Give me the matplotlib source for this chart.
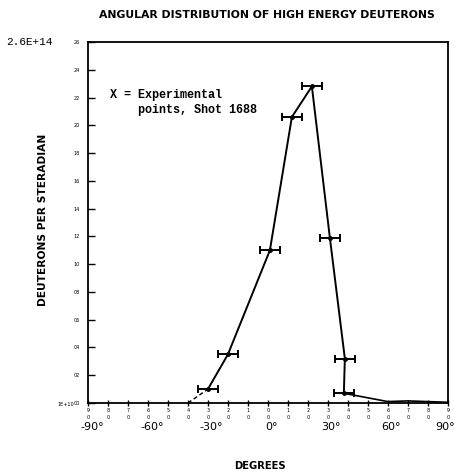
import matplotlib
matplotlib.use('Agg')
import matplotlib.pyplot as plt

# measured points (degrees, deuterons per steradian)
angles = [-30, -20, 1, 12, 22, 31, 38.5, 38]
counts = [1.0e13, 3.5e13, 11.0e13, 20.6e13, 22.8e13, 11.9e13, 3.2e13, 0.7e13]
angle_err = [5, 5, 5, 5, 5, 5, 5, 5]

# curve continuation near zero beyond the last point
tail_angles = [38, 60, 70, 80, 90]
tail_counts = [0.7e13, 0.1e13, 0.15e13, 0.1e13, 0.05e13]

# dashed lead-in from the baseline
lead_angles = [-40, -30]
lead_counts = [0.0, 1.0e13]

xticks_major = [-90, -60, -30, 0, 30, 60, 90]
xticks_minor = list(range(-90, 91, 10))
yticks = [v * 1e13 for v in range(0, 27, 2)]

fig = plt.figure(figsize=(4.56, 4.75), dpi=100, facecolor='w')
ax = fig.add_axes([0.193, 0.1516, 0.789, 0.76])

ax.plot(angles, counts, color='k', linewidth=1.4)
ax.plot(tail_angles, tail_counts, color='k', linewidth=1.2)
ax.plot(lead_angles, lead_counts, color='k', linewidth=1.0, linestyle=(0, (3, 2)))
ax.errorbar(angles, counts, xerr=angle_err, fmt='o', color='k', markersize=2.5,
            elinewidth=1.4, capsize=3, capthick=1.4)

ax.set_xlim(-90, 90)
ax.set_ylim(0, 2.6e14)

ax.set_xticks(xticks_minor)
ax.set_xticklabels([f"{abs(v)//10}\n{abs(v)%10}" for v in xticks_minor],
                   fontsize=3.5, linespacing=1.6)
ax.tick_params(axis='x', direction='inout', length=5, width=1.0, pad=1)

ax.set_yticks(yticks)
ax.set_yticklabels([f"{int(v/1e13):02d}" for v in yticks], fontsize=3.5)
ax.tick_params(axis='y', direction='in', length=5, width=1.0, pad=6)

for s in ax.spines.values():
    s.set_linewidth(1.3)

# big degree labels
for v in xticks_major:
    lab = f"{v}\u00b0"
    xpx = 88 + (v + 90) / 180 * 359 + 4
    ha = 'center'
    if v == 90:
        xpx, ha = 455, 'right'
    fig.text(xpx / 456, (475 - 427) / 475, lab, fontsize=8, ha=ha, va='center')

fig.text(0.065, (475 - 42) / 475, '2.6E+14', family='Liberation Mono',
         fontsize=8, ha='center', va='center')
fig.text(0.145, (475 - 405) / 475, '1E+10', fontsize=3.5, ha='center', va='center')

ax.text(-79, 2.165e14, 'X = Experimental\n    points, Shot 1688',
        family='Liberation Mono', fontsize=8.5, fontweight='bold',
        ha='left', va='center', linespacing=1.25)

fig.text(267 / 456, (475 - 15) / 475, 'ANGULAR DISTRIBUTION OF HIGH ENERGY DEUTERONS',
         fontweight='bold', fontsize=7.8, ha='center', va='center')
fig.text(43 / 456, (475 - 220) / 475, 'DEUTERONS PER STERADIAN', rotation=90,
         fontweight='bold', fontsize=7.7, ha='center', va='center')
fig.text(260 / 456, (475 - 466) / 475, 'DEGREES',
         fontweight='bold', fontsize=7.2, ha='center', va='center')

fig.savefig('out.png', dpi=100, facecolor='w')
